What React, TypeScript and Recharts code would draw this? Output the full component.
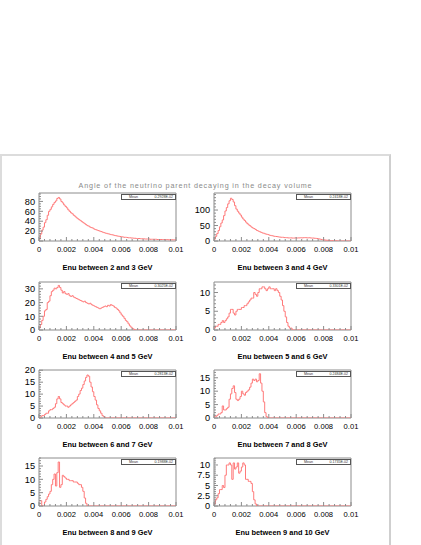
import React from 'react';
import { LineChart, Line, XAxis, YAxis, ReferenceArea } from 'recharts';

// bin width of every histogram (100 bins over 0 .. 0.01)
const BIN = 0.0001;

const X_MAJOR = [0, 0.002, 0.004, 0.006, 0.008, 0.01];
const X_LABELS = ['0', '0.002', '0.004', '0.006', '0.008', '0.01'];
const X_MINOR_STEP = 0.0004;

const TITLE = 'Angle of the neutrino parent decaying in the decay volume';

const PANEL_TITLES = [
  'Enu between 2 and 3 GeV',
  'Enu between 3 and 4 GeV',
  'Enu between 4 and 5 GeV',
  'Enu between 5 and 6 GeV',
  'Enu between 6 and 7 GeV',
  'Enu between 7 and 8 GeV',
  'Enu between 8 and 9 GeV',
  'Enu between 9 and 10 GeV',
];

const MEANS = [
  '0.2928E-02', '0.2418E-02', '0.3025E-02', '0.3301E-02',
  '0.2813E-02', '0.2484E-02', '0.1988E-02', '0.1735E-02',
];

const enu2to3 = [
  4, 14, 22, 28, 37, 43, 52, 60, 64, 69,
  74, 78, 81, 86, 88, 85, 80, 77, 73, 70,
  67, 63, 60, 57, 55, 52, 50, 47, 45, 43,
  41, 39, 37, 35, 33, 31, 30, 28, 27, 26,
  24, 23, 22, 21, 20, 19, 18, 17, 16, 15.5,
  14.5, 14, 13, 12.5, 12, 11, 10.5, 10, 9.5, 9,
  8.5, 8, 7.5, 7.5, 7, 6.5, 6.5, 6, 6, 5.5,
  5.5, 5, 5, 5, 4.5, 4.5, 4.5, 4, 4, 4,
  4, 3.5, 3.5, 3.5, 3.5, 3.5, 3, 3, 3, 3,
  3, 3, 2.5, 3, 2.5, 2.5, 2.5, 2.5, 2.5, 2.5,
];

const enu3to4 = [
  6, 15, 24, 34, 46, 58, 68, 82, 97, 108,
  120, 130, 138, 134, 126, 114, 103, 96, 90, 84,
  77, 71, 66, 61, 56, 52, 49, 45, 42, 40,
  37, 34, 32, 30, 28, 26, 25, 23, 22, 21,
  19, 18, 17, 16, 15, 14.5, 14, 13, 12.5, 12,
  12, 11, 11, 10.5, 10, 10, 10, 9.5, 9.5, 10,
  9.5, 10, 10, 10.5, 10, 10.5, 11, 10.5, 10, 10.5,
  10, 9.5, 9.5, 9, 8.5, 8, 7, 6, 5, 4,
  3.5, 3, 2.5, 2, 1.5, 1, 1, 0.5, 0.5, 0.5,
  0, 0, 0, 0, 0, 0, 0, 0, 0, 0,
];

const enu4to5 = [
  1.5, 4, 7, 10, 14, 15, 20, 21, 25, 28,
  29, 30.5, 30, 31, 32.5, 31, 29, 27, 28, 26.5,
  26, 26.5, 25, 24.5, 25, 24, 23.5, 23, 22.5, 22,
  21.5, 21, 20.5, 21, 20, 19.5, 19, 19.5, 18.5, 18,
  17.5, 17, 16.5, 16, 15.5, 16, 16.5, 17, 17.5, 17,
  18, 17.5, 18.5, 18, 17.5, 16.5, 16, 15, 14, 12.5,
  11, 10, 8.5, 7, 6, 4.5, 3, 2, 1, 0.5,
  0, 0, 0, 0, 0, 0, 0, 0, 0, 0,
  0, 0, 0, 0, 0, 0, 0, 0, 0, 0,
  0, 0, 0, 0, 0, 0, 0, 0, 0, 0,
];

const enu5to6 = [
  0.5, 1, 1, 1.5, 1.5, 2, 2.5, 2, 2.5, 3,
  3.5, 4.5, 5.5, 5.5, 4.5, 4, 5, 5.5, 5.5, 5.5,
  6, 6, 6.5, 6.5, 7, 7.5, 8, 8.5, 8.5, 10,
  9.5, 9, 10, 11, 11, 11.5, 11.5, 11, 10.5, 11,
  11.5, 11, 11, 11, 10.5, 11, 10.5, 10, 9, 8,
  6.5, 5, 3.5, 2, 1, 0.5, 0.5, 0, 0, 0,
  0, 0, 0, 0, 0, 0, 0, 0, 0, 0,
  0, 0, 0, 0, 0, 0, 0, 0, 0, 0,
  0, 0, 0, 0, 0, 0, 0, 0, 0, 0,
  0, 0, 0, 0, 0, 0, 0, 0, 0, 0,
];

const enu6to7 = [
  0, 0.5, 1, 1, 1.5, 2, 2, 3, 3.5, 3.5,
  4, 4.5, 6, 8, 9, 8, 6.5, 6, 5.5, 5,
  5, 4.5, 5, 5.5, 6, 6.5, 7, 7.5, 9, 10,
  11.5, 12.5, 14, 15.5, 17, 18, 17.5, 15, 13, 11,
  9, 7.5, 5.5, 4, 3, 2, 1, 0.5, 0, 0,
  0, 0, 0, 0, 0, 0, 0, 0, 0, 0,
  0, 0, 0, 0, 0, 0, 0, 0, 0, 0,
  0, 0, 0, 0, 0, 0, 0, 0, 0, 0,
  0, 0, 0, 0, 0, 0, 0, 0, 0, 0,
  0, 0, 0, 0, 0, 0, 0, 0, 0, 0,
];

const enu7to8 = [
  0.5, 0.5, 1, 1.5, 1.5, 2, 4.5, 3, 3, 3.5,
  4, 7, 9, 11, 12, 9.5, 7, 6.5, 7, 8,
  10, 9, 8.5, 9.5, 10, 10.5, 11.5, 13, 14.5, 14,
  14.5, 13.5, 14, 16.5, 13, 10, 6, 2, 0.5, 0,
  0, 0, 0, 0, 0, 0, 0, 0, 0, 0,
  0, 0, 0, 0, 0, 0, 0, 0, 0, 0,
  0, 0, 0, 0, 0, 0, 0, 0, 0, 0,
  0, 0, 0, 0, 0, 0, 0, 0, 0, 0,
  0, 0, 0, 0, 0, 0, 0, 0, 0, 0,
  0, 0, 0, 0, 0, 0, 0, 0, 0, 0,
];

const enu8to9 = [
  2, 2, 0, 0, 1.5, 2.5, 3.5, 4.5, 5.5, 8,
  10, 12, 7.5, 12.5, 16.5, 7, 8, 11.5, 11, 10.5,
  10, 10, 9.5, 9.5, 9.5, 9, 9, 9, 8.5, 8,
  8, 7, 5.5, 3, 1, 0, 0, 0, 0, 0,
  0, 0, 0, 0, 0, 0, 0, 0, 0, 0,
  0, 0, 0, 0, 0, 0, 0, 0, 0, 0,
  0, 0, 0, 0, 0, 0, 0, 0, 0, 0,
  0, 0, 0, 0, 0, 0, 0, 0, 0, 0,
  0, 0, 0, 0, 0, 0, 0, 0, 0, 0,
  0, 0, 0, 0, 0, 0, 0, 0, 0, 0,
];

const enu9to10 = [
  0.5, 1.5, 2, 3, 4, 4, 5, 4.5, 7.5, 10,
  10, 10.5, 10, 6.5, 10.5, 9, 9.5, 10.5, 8, 8.5,
  9.5, 10.5, 10, 6.5, 6.5, 6, 6, 5.5, 3.5, 1.5,
  0.5, 0, 0, 0, 0, 0, 0, 0, 0, 0,
  0, 0, 0, 0, 0, 0, 0, 0, 0, 0,
  0, 0, 0, 0, 0, 0, 0, 0, 0, 0,
  0, 0, 0, 0, 0, 0, 0, 0, 0, 0,
  0, 0, 0, 0, 0, 0, 0, 0, 0, 0,
  0, 0, 0, 0, 0, 0, 0, 0, 0, 0,
  0, 0, 0, 0, 0, 0, 0, 0, 0, 0,
];

const SERIES = [enu2to3, enu3to4, enu4to5, enu5to6, enu6to7, enu7to8, enu8to9, enu9to10];

const Y_MAX = [97, 155, 35, 12.8, 20.1, 17.9, 18, 11.7];
const Y_MAJOR = [
  [0, 20, 40, 60, 80],
  [0, 50, 100],
  [0, 10, 20, 30],
  [0, 5, 10],
  [0, 5, 10, 15, 20],
  [0, 5, 10, 15],
  [0, 5, 10, 15],
  [0, 2.5, 5, 7.5, 10],
];
const Y_LABELS = [
  ['0', '20', '40', '60', '80'],
  ['0', '50', '100'],
  ['0', '10', '20', '30'],
  ['0', '5', '10'],
  ['0', '5', '10', '15', '20'],
  ['0', '5', '10', '15'],
  ['0', '5', '10', '15'],
  ['0', '2.5', '5', '7.5', '10'],
];
const Y_MINOR_STEP = [5, 10, 2, 1, 1, 1, 1, 0.5];

// frame geometry
const COL_LEFT = [39, 214];
const ROW_TOP = [193, 282, 370, 458];
const FW = 137;
const FH = 48;
const YW = 36;
const XH = 40;
const MT = 8;
const MR = 14;

const FONT = 'Liberation Sans, Arial, Helvetica, sans-serif';
const AXIS_GREY = '#8c8c8c';
const HIST_RED = '#ff7a7a';

const near = (a: number, b: number) => Math.abs(a - b) < 1e-9;

const stepsFrom = (max: number, step: number) => {
  const out: number[] = [];
  for (let v = 0; v <= max + 1e-9; v += step) out.push(+v.toFixed(6));
  return out;
};

const makeXTick = (props: any) => {
  const { x, y, payload } = props;
  const idx = X_MAJOR.findIndex(m => near(m, payload.value));
  const major = idx >= 0;
  return (
    <g>
      <line x1={x} x2={x} y1={y} y2={y - (major ? 4 : 2)} stroke={AXIS_GREY} strokeWidth={1} />
      {major && (
        <text x={x} y={y + 11} textAnchor="middle" fontSize={7.6} fontFamily={FONT} fill="#000">
          {X_LABELS[idx]}
        </text>
      )}
    </g>
  );
};

const makeYTick = (panel: number) => (props: any) => {
  const { x, y, payload } = props;
  const idx = Y_MAJOR[panel].findIndex(m => near(m, payload.value));
  const major = idx >= 0;
  return (
    <g>
      <line x1={x} x2={x + (major ? 4 : 2)} y1={y} y2={y} stroke={AXIS_GREY} strokeWidth={1} />
      {major && (
        <text x={x - 4} y={y} dy="0.35em" textAnchor="end" fontSize={9.2} fontFamily={FONT} fill="#000">
          {Y_LABELS[panel][idx]}
        </text>
      )}
    </g>
  );
};

const Panel = ({ index }: { index: number }) => {
  const left = COL_LEFT[index % 2];
  const top = ROW_TOP[Math.floor(index / 2)];
  const vals = SERIES[index];
  const data = vals.map((v, i) => ({ x: +(i * BIN).toFixed(6), y: v }));
  data.push({ x: 0.01, y: vals[vals.length - 1] });
  const xTicks = stepsFrom(0.01, X_MINOR_STEP);
  const yTicks = stepsFrom(Y_MAX[index], Y_MINOR_STEP[index]);

  return (
    <>
      <div style={{ position: 'absolute', left: left - YW, top: top - MT }}>
        <LineChart
          width={YW + FW + MR}
          height={MT + FH + XH}
          data={data}
          margin={{ top: MT, right: MR, bottom: 0, left: 0 }}
        >
          <XAxis
            type="number"
            dataKey="x"
            domain={[0, 0.01]}
            ticks={xTicks}
            interval={0}
            height={XH}
            tickSize={0}
            tickMargin={0}
            axisLine={false}
            tickLine={false}
            tick={makeXTick}
            allowDataOverflow
          />
          <YAxis
            type="number"
            domain={[0, Y_MAX[index]]}
            ticks={yTicks}
            interval={0}
            width={YW}
            tickSize={0}
            tickMargin={0}
            axisLine={false}
            tickLine={false}
            tick={makeYTick(index)}
            allowDataOverflow
          />
          <ReferenceArea
            x1={0}
            x2={0.01}
            y1={0}
            y2={Y_MAX[index]}
            fill="none"
            stroke={AXIS_GREY}
            strokeWidth={1}
            ifOverflow="visible"
          />
          <Line
            type="stepAfter"
            dataKey="y"
            stroke={HIST_RED}
            strokeWidth={1}
            dot={false}
            activeDot={false}
            isAnimationActive={false}
          />
        </LineChart>
      </div>
      <div
        style={{
          position: 'absolute',
          left: left + FW - 55,
          top: top + 1,
          width: 55,
          height: 6,
          boxSizing: 'border-box',
          border: '1px solid #555',
          background: '#fff',
          fontFamily: FONT,
          fontSize: 3.6,
          lineHeight: '4px',
          color: '#333',
          display: 'flex',
          justifyContent: 'space-between',
          padding: '0 2px 0 7px',
        }}
      >
        <span>Mean</span>
        <span>{MEANS[index]}</span>
      </div>
      <div
        style={{
          position: 'absolute',
          left: left - 20,
          top: top + FH + 22,
          width: FW + 40,
          textAlign: 'center',
          fontFamily: FONT,
          fontWeight: 'bold',
          fontSize: 7.4,
          lineHeight: '9px',
          color: '#000',
          whiteSpace: 'nowrap',
        }}
      >
        {PANEL_TITLES[index]}
      </div>
    </>
  );
};

export default function App() {
  return (
    <div
      style={{
        position: 'absolute',
        left: 0,
        top: 0,
        width: 421,
        height: 545,
        overflow: 'hidden',
        background: '#fff',
      }}
    >
      <div
        style={{
          position: 'absolute',
          left: 0,
          top: 154,
          width: 391,
          height: 420,
          boxSizing: 'border-box',
          borderTop: '2px solid #dcdcdc',
          borderLeft: '2px solid #dcdcdc',
          borderRight: '2px solid #cfcfcf',
        }}
      />
      <div
        style={{
          position: 'absolute',
          left: 0,
          width: 391,
          top: 181,
          textAlign: 'center',
          fontFamily: FONT,
          fontSize: 7.2,
          letterSpacing: 0.85,
          lineHeight: '10px',
          color: '#8a8a8a',
          whiteSpace: 'nowrap',
        }}
      >
        {TITLE}
      </div>
      {SERIES.map((_, i) => (
        <Panel key={i} index={i} />
      ))}
    </div>
  );
}
